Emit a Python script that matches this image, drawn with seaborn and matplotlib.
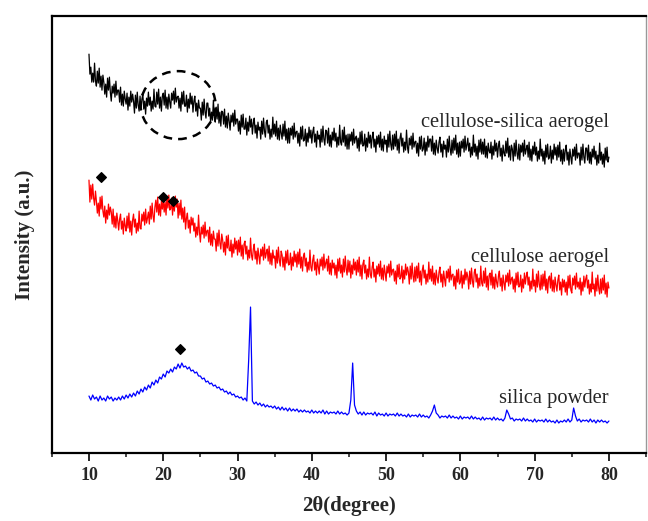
import numpy as np
import pandas as pd
import matplotlib
matplotlib.use("Agg")
import matplotlib.pyplot as plt
import seaborn as sns
from matplotlib.patches import Ellipse
from matplotlib.ticker import NullFormatter

# 2theta grids: aerogels every 0.125 deg, silica powder every 0.25 deg (10 -> 80)
theta_fine = np.round(10 + 0.125 * np.arange(561), 3)
theta_coarse = np.round(10 + 0.25 * np.arange(281), 2)

# intensities (a.u., stacked with offsets); one row per degree
silica_aerogel = [
    446, 426, 433, 418, 427, 418, 437, 419,  414, 429, 417, 432, 413, 424, 410, 425,
    418, 406, 416, 403, 422, 410, 423, 408,  399, 414, 407, 416, 403, 419, 405, 410,
    410, 398, 413, 395, 406, 394, 409, 401,  396, 407, 390, 403, 394, 409, 398, 406,
    399, 387, 405, 392, 408, 395, 389, 404,  390, 401, 406, 391, 399, 386, 402, 394,
    408, 395, 403, 389, 399, 391, 411, 394,  393, 408, 396, 411, 392, 403, 389, 404,
    407, 395, 410, 392, 403, 391, 406, 398,  392, 407, 400, 409, 396, 412, 398, 403,
    404, 392, 402, 389, 408, 396, 409, 394,  394, 405, 388, 401, 392, 407, 396, 404,
    388, 399, 404, 389, 397, 384, 400, 392,  392, 380, 398, 385, 401, 388, 382, 397,
    397, 384, 392, 378, 388, 380, 400, 383,  378, 393, 381, 396, 377, 388, 374, 389,
    388, 376, 391, 373, 384, 372, 387, 379,  370, 385, 378, 387, 374, 390, 376, 381,
    381, 369, 379, 366, 385, 373, 386, 371,  371, 382, 365, 378, 369, 384, 373, 381,
    366, 377, 382, 367, 375, 362, 378, 370,  373, 361, 379, 366, 382, 369, 363, 378,
    380, 367, 375, 361, 371, 363, 383, 366,  376, 364, 379, 361, 372, 360, 375, 367,
    361, 376, 364, 379, 360, 371, 357, 372,  357, 372, 365, 374, 361, 377, 363, 368,
    369, 357, 367, 354, 373, 361, 374, 359,  360, 371, 354, 367, 358, 373, 362, 370,
    357, 368, 373, 358, 366, 353, 369, 361,  365, 353, 371, 358, 374, 361, 355, 370,
    369, 357, 372, 354, 365, 353, 368, 360,  372, 359, 367, 353, 363, 355, 375, 358,
    355, 370, 358, 373, 354, 365, 351, 366,  351, 366, 359, 368, 355, 371, 357, 362,
    364, 352, 362, 349, 368, 356, 369, 354,  355, 366, 349, 362, 353, 368, 357, 365,
    352, 363, 368, 353, 361, 348, 364, 356,  365, 353, 368, 350, 361, 349, 364, 356,
    360, 348, 366, 353, 369, 356, 350, 365,  351, 366, 354, 369, 350, 361, 347, 362,
    367, 354, 362, 348, 358, 350, 370, 353,  347, 362, 355, 364, 351, 367, 353, 358,
    359, 347, 357, 344, 363, 351, 364, 349,  351, 362, 345, 358, 349, 364, 353, 361,
    361, 349, 364, 346, 357, 345, 360, 352,  347, 358, 363, 348, 356, 343, 359, 351,
    355, 343, 361, 348, 364, 351, 345, 360,  347, 362, 350, 365, 346, 357, 343, 358,
    344, 359, 352, 361, 348, 364, 350, 355,  362, 349, 357, 343, 353, 345, 365, 348,
    356, 344, 354, 341, 360, 348, 361, 346,  358, 346, 361, 343, 354, 342, 357, 349,
    347, 358, 341, 354, 345, 360, 349, 357,  343, 354, 359, 344, 352, 339, 355, 347,
    344, 359, 347, 362, 343, 354, 340, 355,  351, 339, 357, 344, 360, 347, 341, 356,
    340, 355, 348, 357, 344, 360, 346, 351,  355, 343, 358, 340, 351, 339, 354, 346,
    358, 345, 353, 339, 349, 341, 361, 344,  351, 339, 349, 336, 355, 343, 356, 341,
    343, 354, 337, 350, 341, 356, 345, 353,  340, 355, 343, 358, 339, 350, 336, 351,
    339, 350, 355, 340, 348, 335, 351, 343,  336, 351, 344, 353, 340, 356, 342, 347,
    347, 335, 353, 340, 356, 343, 337, 352,  352, 340, 355, 337, 348, 336, 351, 343,
    354, 341, 349, 335, 345, 337, 357, 340,  348, 336, 346, 333, 352, 340, 353, 338,
    343,
]
cellulose_aerogel = [
    320, 298, 315, 301, 316, 302, 295, 309,  299, 287, 297, 284, 303, 291, 304, 289,
    283, 294, 277, 290, 281, 296, 285, 293,  288, 276, 291, 273, 284, 272, 287, 279,
    270, 281, 286, 271, 279, 266, 282, 274,  269, 284, 272, 287, 268, 279, 265, 280,
    286, 273, 281, 267, 277, 269, 289, 272,  271, 286, 279, 288, 275, 291, 277, 282,
    288, 276, 294, 281, 297, 284, 278, 293,  300, 288, 303, 285, 296, 284, 299, 291,
    300, 288, 298, 285, 304, 292, 305, 290,  291, 302, 285, 298, 289, 304, 293, 301,
    282, 297, 285, 300, 281, 292, 278, 293,  271, 282, 287, 272, 280, 267, 283, 275,
    282, 269, 277, 263, 273, 265, 285, 268,  258, 273, 266, 275, 262, 278, 264, 269,
    270, 258, 273, 255, 266, 254, 269, 261,  261, 249, 267, 254, 270, 257, 251, 266,
    260, 248, 258, 245, 264, 252, 265, 250,  249, 260, 243, 256, 247, 262, 251, 259,
    245, 260, 248, 263, 244, 255, 241, 256,  259, 246, 254, 240, 250, 242, 262, 245,
    240, 251, 256, 241, 249, 236, 252, 244,  236, 251, 244, 253, 240, 256, 242, 247,
    251, 239, 254, 236, 247, 235, 250, 242,  244, 232, 250, 237, 253, 240, 234, 249,
    245, 233, 243, 230, 249, 237, 250, 235,  236, 247, 230, 243, 234, 249, 238, 246,
    233, 248, 236, 251, 232, 243, 229, 244,  247, 234, 242, 228, 238, 230, 250, 233,
    229, 240, 245, 230, 238, 225, 241, 233,  226, 241, 234, 243, 230, 246, 232, 237,
    241, 229, 244, 226, 237, 225, 240, 232,  237, 225, 235, 222, 241, 229, 242, 227,
    235, 223, 241, 228, 244, 231, 225, 240,  228, 239, 222, 235, 226, 241, 230, 238,
    225, 240, 228, 243, 224, 235, 221, 236,  240, 227, 235, 221, 231, 223, 243, 226,
    222, 233, 238, 223, 231, 218, 234, 226,  236, 224, 239, 221, 232, 220, 235, 227,
    219, 234, 227, 236, 223, 239, 225, 230,  231, 219, 229, 216, 235, 223, 236, 221,
    223, 234, 217, 230, 221, 236, 225, 233,  228, 216, 234, 221, 237, 224, 218, 233,
    219, 234, 222, 237, 218, 229, 215, 230,  235, 222, 230, 216, 226, 218, 238, 221,
    231, 219, 234, 216, 227, 215, 230, 222,  217, 228, 233, 218, 226, 213, 229, 221,
    214, 229, 222, 231, 218, 234, 220, 225,  226, 214, 224, 211, 230, 218, 231, 216,
    218, 229, 212, 225, 216, 231, 220, 228,  223, 211, 229, 216, 232, 219, 213, 228,
    231, 218, 226, 212, 222, 214, 234, 217,  214, 229, 217, 232, 213, 224, 210, 225,
    227, 215, 230, 212, 223, 211, 226, 218,  213, 224, 229, 214, 222, 209, 225, 217,
    210, 225, 218, 227, 214, 230, 216, 221,  223, 211, 221, 208, 227, 215, 228, 213,
    214, 225, 208, 221, 212, 227, 216, 224,  228, 215, 223, 209, 219, 211, 231, 214,
    220, 208, 226, 213, 229, 216, 210, 225,  211, 226, 214, 229, 210, 221, 207, 222,
    224, 212, 227, 209, 220, 208, 223, 215,  209, 220, 225, 210, 218, 205, 221, 213,
    220, 208, 218, 205, 224, 212, 225, 210,  207, 222, 215, 224, 211, 227, 213, 218,
    211, 222, 205, 218, 209, 224, 213, 221,  225, 212, 220, 206, 216, 208, 228, 211,
    216, 204, 222, 209, 225, 212, 206, 221,  207, 222, 210, 225, 206, 217, 203, 218,
    212,
]
silica_powder = [
    104, 100, 105, 101,  103, 99, 104, 100,  102, 99, 104, 101,  103, 99, 102, 100,
    103, 100, 104, 101,  105, 102, 106, 103,  107, 104, 109, 106,  111, 108, 113, 110,
    115, 112, 118, 115,  120, 117, 123, 121,  126, 123, 129, 127,  131, 128, 133, 131,
    136, 132, 137, 133,  134, 131, 133, 129,  130, 127, 128, 124,  124, 121, 122, 118,
    119, 116, 117, 114,  115, 112, 113, 110,  111, 108, 109, 106,  108, 105, 106, 103,
    104, 102, 103, 100,  102, 99, 140, 193,  99, 96, 98, 95,  97, 94, 96, 93,
    95, 93, 94, 92,  94, 91, 93, 90,  93, 90, 92, 89,  92, 89, 91, 89,
    91, 88, 90, 88,  90, 88, 89, 87,  90, 87, 89, 87,  89, 87, 90, 86,
    89, 86, 88, 87,  88, 86, 89, 86,  88, 86, 87, 85,  87, 100, 137, 95,
    89, 86, 88, 85,  88, 85, 87, 86,  87, 85, 88, 84,  87, 85, 86, 84,
    87, 84, 86, 85,  86, 84, 87, 84,  86, 84, 85, 83,  86, 83, 85, 84,
    85, 83, 86, 83,  85, 83, 84, 82,  85, 89, 95, 87,  85, 82, 84, 83,
    84, 82, 85, 82,  84, 82, 83, 81,  84, 81, 83, 82,  83, 81, 84, 81,
    83, 81, 82, 80,  83, 80, 82, 81,  82, 80, 83, 80,  82, 80, 81, 79,
    82, 90, 86, 81,  82, 79, 81, 80,  81, 79, 82, 79,  81, 79, 80, 78,
    81, 78, 80, 79,  80, 78, 81, 78,  80, 78, 79, 77,  80, 77, 79, 78,
    80, 78, 81, 78,  80, 92, 84, 79,  81, 78, 80, 79,  80, 78, 81, 78,
    80, 77, 80, 78,  80, 78, 79, 77,  79,
]

series_names = ["cellulose-silica aerogel", "cellulose aerogel", "silica powder"]
series_colors = ["black", "red", "blue"]
label_y = [378, 243, 102]

# diamond markers for cellulose / silica reflections
mark_x = [11.6, 20.0, 21.3, 22.3]
mark_y = [323, 303, 299, 151]

df = pd.concat([
    pd.DataFrame({"two_theta": theta_fine, "intensity": silica_aerogel, "sample": series_names[0]}),
    pd.DataFrame({"two_theta": theta_fine, "intensity": cellulose_aerogel, "sample": series_names[1]}),
    pd.DataFrame({"two_theta": theta_coarse, "intensity": silica_powder, "sample": series_names[2]}),
], ignore_index=True)

sns.set_theme(style="ticks")
plt.rcParams["font.family"] = ["Liberation Serif", "DejaVu Serif"]

fig = plt.figure(figsize=(6.48, 5.21), dpi=100)
ax = fig.add_axes([0.080, 0.1305, 0.917, 0.8385])

sns.lineplot(data=df, x="two_theta", y="intensity", hue="sample",
             palette=dict(zip(series_names, series_colors)), linewidth=0.9,
             estimator=None, sort=False, legend=False, ax=ax)

ax.scatter(mark_x, mark_y, marker="D", s=24, color="black", zorder=5)

ax.add_patch(Ellipse((22.0, 395), width=10.1, height=68, fill=False,
                     edgecolor="black", linestyle=(0, (3.5, 2.5)), linewidth=1.8))

for name, y in zip(series_names, label_y):
    ax.text(80.0, y, name, ha="right", va="center", fontsize=14.8)

ax.set_xlim(5, 85)
ax.set_ylim(47, 484)
ax.set_xticks(np.arange(10, 81, 10))
ax.set_xticks(np.arange(5, 86, 10), minor=True)
ax.xaxis.set_minor_formatter(NullFormatter())
ax.set_yticks([])
ax.tick_params(axis="x", which="major", direction="out", length=6, width=1.4,
               labelsize=13, pad=4)
ax.tick_params(axis="x", which="minor", direction="out", length=3, width=1.2)
for lab in ax.get_xticklabels():
    lab.set_fontweight("bold")
for side in ["left", "right", "top", "bottom"]:
    ax.spines[side].set_visible(True)
    ax.spines[side].set_linewidth(1.6)
    ax.spines[side].set_color("black")
ax.spines["right"].set_linewidth(1.0)
ax.spines["right"].set_color("#999999")

ax.set_xlabel("2θ(degree)", fontsize=15, fontweight="bold", labelpad=9)
ax.set_ylabel("Intensity (a.u.)", fontsize=15, fontweight="bold", labelpad=12)

fig.savefig("out.png", dpi=100)
